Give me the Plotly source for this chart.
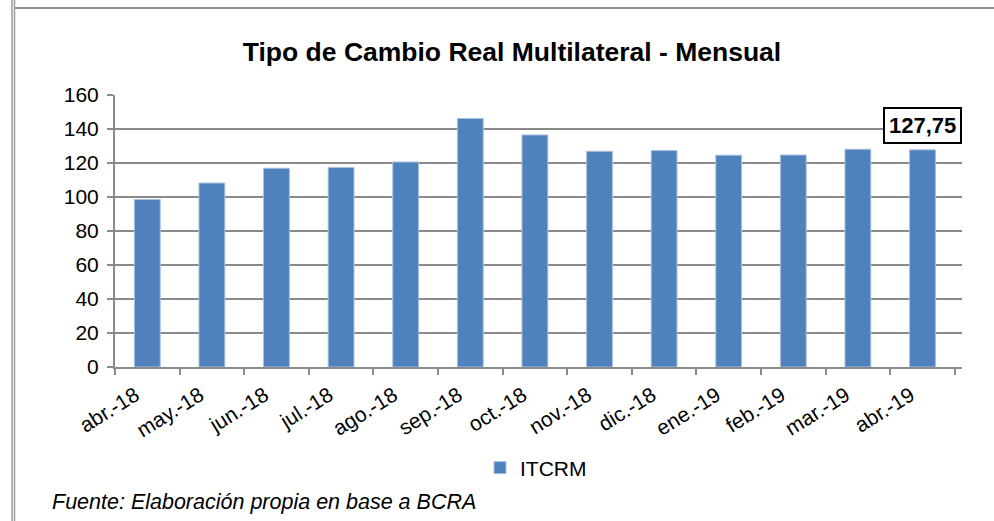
import plotly.graph_objects as go

categories = ["abr.-18", "may.-18", "jun.-18", "jul.-18", "ago.-18", "sep.-18", "oct.-18",
              "nov.-18", "dic.-18", "ene.-19", "feb.-19", "mar.-19", "abr.-19"]
itcrm = [98.6, 108.2, 116.9, 117.3, 120.6, 146.2, 136.5, 126.9, 127.3, 124.6, 124.7, 128.1, 127.75]
y_ticks = [0, 20, 40, 60, 80, 100, 120, 140, 160]
series_name = "ITCRM"
title_text = "Tipo de Cambio Real Multilateral - Mensual"
source_text = "Fuente: Elaboración propia en base a BCRA"
last_label = "127,75"

W, H = 994, 521
L, R, T, B = 115, 32, 95, 154
pw, ph = W - L - R, H - T - B

def px_x(px):
    return (px - L) / pw

def px_y(py):
    return (H - B - py) / ph

FONT = "Liberation Sans, Arial, sans-serif"
GRID = "#8a8a8a"

fig = go.Figure()
fig.add_trace(go.Bar(
    x=categories, y=itcrm, name=series_name,
    marker=dict(color="#4F81BD", line=dict(color="#A9C1E0", width=1)),
    showlegend=True,
))

fig.update_layout(
    width=W, height=H,
    margin=dict(l=L, r=R, t=T, b=B),
    paper_bgcolor="white", plot_bgcolor="white",
    font=dict(family=FONT, size=21, color="black"),
    bargap=0.6,
    title=dict(text="<b>" + title_text + "</b>", x=px_x(512), xref="paper", xanchor="center",
               y=1 - 52 / H, yanchor="middle", font=dict(size=26.5, family=FONT, color="black")),
    xaxis=dict(
        type="category", tickangle=-32, showgrid=False,
        showline=True, linecolor=GRID, linewidth=2,
        ticks="outside", tickson="boundaries", ticklen=6, tickcolor=GRID, tickwidth=2,
        tickfont=dict(size=21, family=FONT, color="black"),
        ticklabelshift=-12, ticklabelstandoff=6,
    ),
    yaxis=dict(
        range=[0, 160], tickvals=y_ticks, showgrid=True, gridcolor=GRID, gridwidth=2,
        showline=True, linecolor=GRID, linewidth=2, zeroline=False,
        ticks="outside", ticklen=6, tickcolor=GRID, tickwidth=2,
        tickfont=dict(size=21, family=FONT, color="black"),
        ticklabelstandoff=4,
    ),
    legend=dict(orientation="h", x=px_x(536), xanchor="center", y=px_y(468), yanchor="middle",
                font=dict(size=21, family=FONT, color="black"), bgcolor="rgba(0,0,0,0)",
                itemwidth=30),
)

fig.add_annotation(
    x=categories[-1], y=141.8, xref="x", yref="y",
    text="<b>" + last_label + "</b>", showarrow=False,
    font=dict(size=22, family=FONT, color="black"),
    bordercolor="black", borderwidth=2, borderpad=4, bgcolor="white",
)

fig.add_annotation(
    x=px_x(50), y=px_y(502), xref="paper", yref="paper", xanchor="left", yanchor="middle",
    text="<i>" + source_text + "</i>", showarrow=False,
    font=dict(size=21.5, family=FONT, color="black"),
)

# frame lines
fig.add_shape(type="line", xref="paper", yref="paper", x0=px_x(15), x1=px_x(994),
              y0=px_y(8), y1=px_y(8), line=dict(color="#8c8c8c", width=2))
for xp in (12, 14.5):
    fig.add_shape(type="line", xref="paper", yref="paper", x0=px_x(xp), x1=px_x(xp),
                  y0=px_y(0), y1=px_y(521), line=dict(color="#9a9a9a", width=1.5))

fig.write_html("out.html", config={"displayModeBar": False},
               post_script="document.body.style.margin='0';document.body.style.overflow='hidden';")
